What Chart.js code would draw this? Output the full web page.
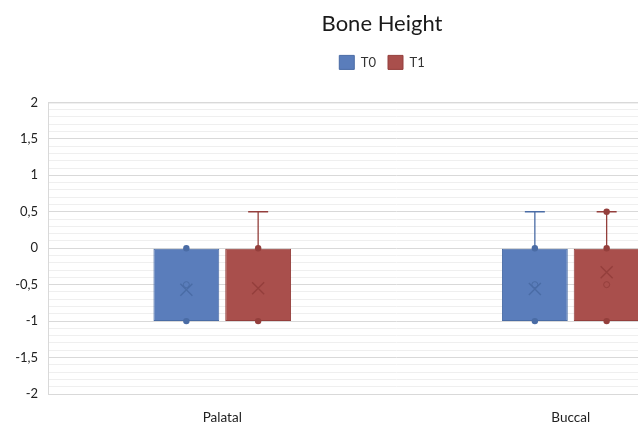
<!DOCTYPE html>
<html>
<head>
<meta charset="utf-8">
<script src="https://cdn.jsdelivr.net/npm/chart.js@4/dist/chart.umd.min.js"></script>
<style>
html,body{margin:0;padding:0;background:#fff;overflow:hidden;width:638px;height:424px;}
#wrap{position:absolute;left:0;top:0;width:762px;height:424px;}
</style>
</head>
<body>
<div id="wrap"><canvas id="c" width="762" height="424"></canvas></div>
<script>
const categories = ['Palatal', 'Buccal'];
const seriesNames = ['T0', 'T1'];
const yTickValues = [2, 1.5, 1, 0.5, 0, -0.5, -1, -1.5, -2];
const yTickLabels = ['2', '1,5', '1', '0,5', '0', '-0,5', '-1', '-1,5', '-2'];

const t0Min = [-1, -1];
const t0Q1 = [-1, -1];
const t0Q3 = [0, 0];
const t0Max = [0, 0.5];
const t0Mean = [-0.57, -0.56];
const t0Points = [[0, -1], [0, -1]];
const t0Inner = [[-0.5], [-0.5]];

const t1Min = [-1, -1];
const t1Q1 = [-1, -1];
const t1Q3 = [0, 0];
const t1Max = [0.5, 0.5];
const t1Mean = [-0.55, -0.33];
const t1Points = [[0, -1], [0, -1, 0.5]];
const t1Inner = [[], [-0.5]];

const fills = ['#5a7dbb', '#a94f4c'];
const lines = ['#4a6ca5', '#943f3c'];

const boxStats = [
  {min: t0Min, q1: t0Q1, q3: t0Q3, max: t0Max, mean: t0Mean, pts: t0Points, inner: t0Inner},
  {min: t1Min, q1: t1Q1, q3: t1Q3, max: t1Max, mean: t1Mean, pts: t1Points, inner: t1Inner}
];

const boxPlugin = {
  id: 'boxPlugin',
  afterDatasetsDraw(chart) {
    const ctx = chart.ctx;
    const ys = chart.scales.y;
    boxStats.forEach((st, di) => {
      const meta = chart.getDatasetMeta(di);
      meta.data.forEach((el, i) => {
        const x = el.x;
        ctx.save();
        ctx.strokeStyle = lines[di];
        ctx.lineWidth = 1.3;
        const segs = [[st.q3[i], st.max[i]], [st.q1[i], st.min[i]]];
        segs.forEach(([a, b]) => {
          if (a !== b) {
            ctx.beginPath();
            ctx.moveTo(x, ys.getPixelForValue(a));
            ctx.lineTo(x, ys.getPixelForValue(b));
            ctx.moveTo(x - 10, ys.getPixelForValue(b));
            ctx.lineTo(x + 10, ys.getPixelForValue(b));
            ctx.stroke();
          }
        });
        ctx.fillStyle = lines[di];
        st.pts[i].forEach(v => {
          ctx.beginPath();
          ctx.arc(x, ys.getPixelForValue(v), 3.2, 0, Math.PI * 2);
          ctx.fill();
        });
        ctx.lineWidth = 1;
        st.inner[i].forEach(v => {
          ctx.beginPath();
          ctx.arc(x, ys.getPixelForValue(v), 3, 0, Math.PI * 2);
          ctx.stroke();
        });
        const my = ys.getPixelForValue(st.mean[i]);
        ctx.lineWidth = 1.4;
        ctx.beginPath();
        ctx.moveTo(x - 6, my - 6); ctx.lineTo(x + 6, my + 6);
        ctx.moveTo(x + 6, my - 6); ctx.lineTo(x - 6, my + 6);
        ctx.stroke();
        ctx.restore();
      });
    });
  }
};

const borderPlugin = {
  id: 'borderPlugin',
  beforeDatasetsDraw(chart) {
    const {ctx, chartArea: a} = chart;
    ctx.save();
    ctx.strokeStyle = '#d9d9d9';
    ctx.lineWidth = 1;
    ctx.strokeRect(a.left + 0.5, a.top + 0.5, a.right - a.left, a.bottom - a.top);
    ctx.restore();
  }
};

const legendSpacer = {
  id: 'legendSpacer',
  beforeInit(chart) {
    const orig = chart.legend.fit;
    chart.legend.fit = function () {
      orig.call(this);
      this.height += 23;
    };
  }
};

new Chart(document.getElementById('c'), {
  type: 'bar',
  data: {
    labels: categories,
    datasets: boxStats.map((st, di) => ({
      label: seriesNames[di],
      data: st.q1.map((q, i) => [q, st.q3[i]]),
      backgroundColor: fills[di],
      borderColor: lines[di],
      borderWidth: 1,
      borderSkipped: false,
      categoryPercentage: 0.412,
      barPercentage: 0.917
    }))
  },
  options: {
    responsive: false,
    animation: false,
    layout: {padding: {left: 2, right: 0, top: 0, bottom: 0}},
    plugins: {
      title: {
        display: true,
        text: 'Bone Height',
        color: '#1a1a1a',
        font: {family: 'Lato', size: 22, weight: 'normal'},
        padding: {top: 11, bottom: 6}
      },
      legend: {
        display: true,
        labels: {
          color: '#333',
          font: {family: 'Lato', size: 13},
          boxWidth: 15,
          boxHeight: 14,
          padding: 12
        }
      },
      tooltip: {enabled: false}
    },
    scales: {
      x: {
        grid: {display: false, drawTicks: false},
        border: {display: false},
        ticks: {color: '#222', font: {family: 'Lato', size: 13.5}, padding: 16},
        afterFit(s) { s.height = 30; }
      },
      y: {
        min: -2, max: 2,
        afterFit(s) { s.width = 46; },
        afterBuildTicks(s) {
          const t = [];
          for (let k = -20; k <= 20; k++) t.push({value: k / 10});
          s.ticks = t;
        },
        ticks: {
          autoSkip: false,
          padding: 10,
          color: '#222',
          font: {family: 'Lato', size: 13},
          callback(v) {
            const idx = yTickValues.findIndex(t => Math.abs(t - v) < 1e-6);
            return idx >= 0 ? yTickLabels[idx] : '';
          }
        },
        grid: {
          drawTicks: false,
          color(c) {
            const v = c.tick.value;
            return Math.abs(v * 2 - Math.round(v * 2)) < 1e-6 ? '#d9d9d9' : '#efefef';
          }
        },
        border: {display: false}
      },
      yPad: {
        position: 'right',
        min: -2, max: 2,
        grid: {display: false, drawTicks: false},
        border: {display: false},
        ticks: {display: false},
        afterFit(s) { s.width = 17; }
      }
    }
  },
  plugins: [borderPlugin, boxPlugin, legendSpacer]
});
</script>
</body>
</html>
